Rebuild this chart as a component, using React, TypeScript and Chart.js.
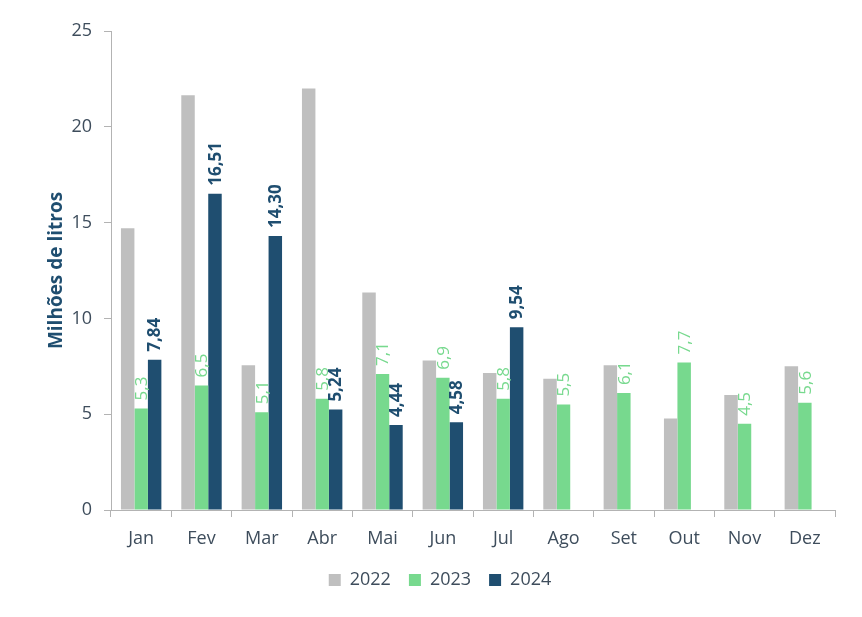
import React, { useEffect, useRef } from "react";
import { Chart, registerables } from "chart.js";

Chart.register(...registerables);

const months = ["Jan", "Fev", "Mar", "Abr", "Mai", "Jun", "Jul", "Ago", "Set", "Out", "Nov", "Dez"];
const values2022 = [14.7, 21.65, 7.55, 22.0, 11.35, 7.8, 7.15, 6.85, 7.55, 4.78, 6.0, 7.5];
const values2023 = [5.3, 6.5, 5.1, 5.8, 7.1, 6.9, 5.8, 5.5, 6.1, 7.7, 4.5, 5.6];
const values2024 = [7.84, 16.51, 14.3, 5.24, 4.44, 4.58, 9.54, null, null, null, null, null];
const yTicks = [0, 5, 10, 15, 20, 25];

const FONT = "'Open Sans', 'Noto Sans', sans-serif";
const GRAY = "#BFBFBF";
const GREEN = "#77D98E";
const NAVY = "#1F4E70";
const TEXT = "#3E4D5C";
const AXIS = "#B3B3B3";

const barLabels = {
  id: "barLabels",
  afterDatasetsDraw(chart: any) {
    const ctx = chart.ctx;
    chart.data.datasets.forEach((ds: any, di: number) => {
      const cfg = ds.labelStyle;
      if (!cfg) return;
      const meta = chart.getDatasetMeta(di);
      meta.data.forEach((bar: any, i: number) => {
        const v = ds.data[i];
        if (v === null || v === undefined) return;
        const text = v.toFixed(cfg.decimals).replace(".", ",");
        ctx.save();
        ctx.translate(bar.x, bar.y - 8);
        ctx.rotate(-Math.PI / 2);
        ctx.font = `${cfg.weight} ${cfg.size}px ${FONT}`;
        ctx.fillStyle = cfg.color;
        ctx.textAlign = "left";
        ctx.textBaseline = "middle";
        ctx.fillText(text, 0, 1);
        ctx.restore();
      });
    });
  },
};

export default function App() {
  const ref = useRef<HTMLCanvasElement | null>(null);

  useEffect(() => {
    document.body.style.margin = "0";
    const canvas = ref.current;
    if (!canvas) return;
    const chart = new Chart(canvas, {
      type: "bar",
      data: {
        labels: months,
        datasets: [
          {
            label: "2022",
            data: values2022,
            backgroundColor: GRAY,
          },
          {
            label: "2023",
            data: values2023,
            backgroundColor: GREEN,
            labelStyle: { decimals: 1, color: GREEN, weight: "normal", size: 17 },
          } as any,
          {
            label: "2024",
            data: values2024,
            backgroundColor: NAVY,
            labelStyle: { decimals: 2, color: NAVY, weight: "bold", size: 17 },
          } as any,
        ],
      },
      options: {
        animation: false,
        responsive: false,
        maintainAspectRatio: false,
        datasets: {
          bar: { categoryPercentage: 0.67, barPercentage: 1.0 },
        },
        layout: { padding: { top: 31, right: 27, bottom: 18, left: 45 } },
        plugins: {
          legend: {
            position: "bottom",
            labels: {
              boxWidth: 12,
              boxHeight: 12,
              padding: 18,
              color: TEXT,
              font: { family: FONT, size: 18 },
            },
          },
          tooltip: { enabled: false },
        },
        scales: {
          x: {
            grid: {
              display: true,
              drawOnChartArea: false,
              drawTicks: true,
              tickLength: 7,
              color: AXIS,
              offset: true,
            },
            border: { display: true, color: AXIS, width: 1 },
            ticks: { color: TEXT, font: { family: FONT, size: 18 }, padding: 11 },
            afterFit: (scale: any) => {
              scale.height = 43;
            },
          },
          y: {
            min: 0,
            max: 25,
            afterBuildTicks: (scale: any) => {
              scale.ticks = yTicks.map((v) => ({ value: v }));
            },
            grid: {
              display: true,
              drawOnChartArea: false,
              drawTicks: true,
              tickLength: 7,
              color: AXIS,
            },
            border: { display: true, color: AXIS, width: 1 },
            ticks: { color: TEXT, font: { family: FONT, size: 18 }, padding: 12 },
            title: {
              display: true,
              text: "Milhões de litros",
              color: NAVY,
              font: { family: FONT, size: 19, weight: "bold" },
              padding: { top: 0, bottom: 0 },
            },
            afterFit: (scale: any) => {
              scale.width = 66;
            },
          },
        },
      } as any,
      plugins: [barLabels],
    });
    return () => chart.destroy();
  }, []);

  return (
    <div style={{ width: 862, height: 617, background: "#fff" }}>
      <canvas ref={ref} width={862} height={617} style={{ display: "block" }} />
    </div>
  );
}
